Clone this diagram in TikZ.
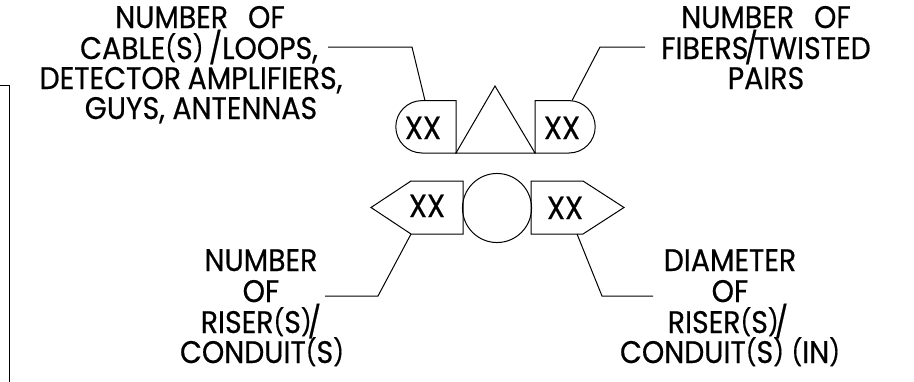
\documentclass[tikz,border=0pt]{standalone}
\usepackage{fontspec}
\setmainfont[FakeStretch=0.91,FakeBold=0.5]{Poppins}
\newcommand\prn[1]{\raisebox{1.2pt}{\fontsize{19.5pt}{20pt}\selectfont(}#1\raisebox{1.2pt}{\fontsize{19.5pt}{20pt}\selectfont)}}
\tikzset{
  px/.style={x=0.75pt,y=-0.75pt},
  ln/.style={draw=black,line width=0.75pt,line join=miter},
  lbl/.style={font=\fontsize{23.4pt}{27pt}\selectfont,inner sep=0pt,anchor=base},
  xx/.style={font=\fontsize{24pt}{27pt}\selectfont,inner sep=0pt,anchor=base}
}
\begin{document}
\begin{tikzpicture}[px]
\useasboundingbox (0,0) rectangle (914,382);
% frame fragment
\draw[ln] (0,85) -- (9,85) -- (9,382);
% symbols
\draw[ln] (456,153) -- (422,153) arc[start angle=90,end angle=270,radius=26.2] -- (456,100.6) -- cycle;
\draw[ln] (535,153) -- (569,153) arc[start angle=90,end angle=-90,radius=26.2] -- (535,100.6) -- cycle;
\draw[ln] (456,153) -- (495,86) -- (535,153) -- cycle;
\draw[ln] (463,181) -- (411,181) -- (371,207.5) -- (411,234) -- (463,234) -- cycle;
\draw[ln] (531,181) -- (583,181) -- (624,207.5) -- (583,234) -- (531,234) -- cycle;
\node[ln,circle,minimum size=51.8pt,inner sep=0pt] (c) at (497,208) {};
\node[xx] (x1) at (423,139) {XX};
\node[xx] (x2) at (562,139) {XX};
\node[xx] (x3) at (427,217) {XX};
\node[xx] (x4) at (565,219) {XX};
% labels
\node[lbl] (l1) at (200,28) {NUMBER\hspace{15pt}OF};
\node[lbl] (l2) at (199,59) {CABLE\prn{S}\,/LOOPS,};
\node[lbl] (l3) at (191,89) {DETECTOR\hspace{5pt}AMPLIFIERS,};
\node[lbl] (l4) at (201,119) {GUYS, ANTENNAS};
\node[lbl] (r1) at (766,28) {NUMBER\hspace{15pt}OF};
\node[lbl] (r2) at (766,59) {FIBERS\kern-3pt/\kern-3ptTWISTED};
\node[lbl] (r3) at (766,89) {PAIRS};
\node[lbl] (a1) at (261,271) {NUMBER};
\node[lbl] (a2) at (261,302) {OF};
\node[lbl] (a3) at (261,333) {RISER\prn{S}\kern-3pt/};
\node[lbl] (a4) at (262,363) {CONDUIT\prn{S}};
\node[lbl] (b1) at (730,271) {DIAMETER};
\node[lbl] (b2) at (730,302) {OF};
\node[lbl] (b3) at (728,333) {RISER\prn{S}\kern-3pt/};
\node[lbl] (b4) at (730,363) {CONDUIT\prn{S} \prn{IN}};
% connectors
\coordinate (k1) at (412,47); \coordinate (s1) at (425,100.6); \coordinate (e1) at (328,47);
\coordinate (k2) at (600,47); \coordinate (s2) at (572,100.6); \coordinate (e2) at (645,47);
\coordinate (k3) at (378,296); \coordinate (s3) at (411,234); \coordinate (e3) at (325,296);
\coordinate (k4) at (602,296); \coordinate (s4) at (577,234); \coordinate (e4) at (653,296);
\draw[ln] (e1) -- (k1) -- (s1);
\draw[ln] (e2) -- (k2) -- (s2);
\draw[ln] (e3) -- (k3) -- (s3);
\draw[ln] (e4) -- (k4) -- (s4);
\end{tikzpicture}
\end{document}
